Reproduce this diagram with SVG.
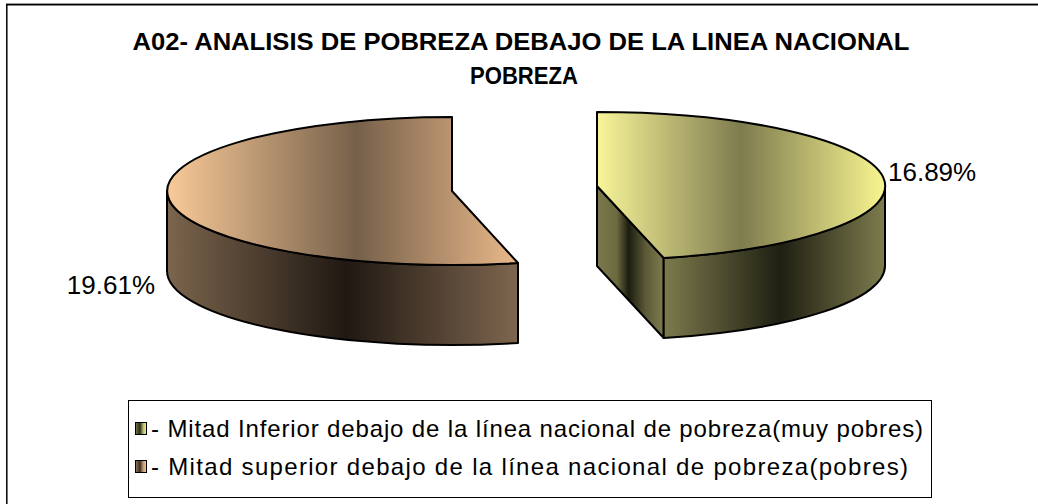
<svg xmlns="http://www.w3.org/2000/svg" width="1038" height="504" viewBox="0 0 1038 504">
<style>
.edge{stroke:#000;stroke-width:2;stroke-linejoin:round}
.title{font-family:"Liberation Sans",Arial,sans-serif;font-weight:bold;font-size:24px;fill:#000}
.lbl{font-family:"Liberation Sans",Arial,sans-serif;font-size:26px;fill:#000}
.leg{font-family:"Liberation Sans",Arial,sans-serif;font-size:24px;fill:#000}
</style>
<defs>
<linearGradient id="bTop" gradientUnits="userSpaceOnUse" x1="167" y1="0" x2="518" y2="0">
<stop offset="0" stop-color="#FACA98"/><stop offset="0.54" stop-color="#76604A"/><stop offset="1" stop-color="#EAB98A"/>
</linearGradient>
<linearGradient id="bSide" gradientUnits="userSpaceOnUse" x1="167" y1="0" x2="518" y2="0">
<stop offset="0" stop-color="#7B654D"/><stop offset="0.51" stop-color="#201812"/><stop offset="1" stop-color="#7E664F"/>
</linearGradient>
<linearGradient id="yTop" gradientUnits="userSpaceOnUse" x1="597" y1="0" x2="885" y2="0">
<stop offset="0" stop-color="#F8F59A"/><stop offset="0.5" stop-color="#7E7B4E"/><stop offset="1" stop-color="#F8F690"/>
</linearGradient>
<linearGradient id="ySide" gradientUnits="userSpaceOnUse" x1="663" y1="0" x2="885" y2="0">
<stop offset="0" stop-color="#7D7B4D"/><stop offset="0.53" stop-color="#1F1F12"/><stop offset="1" stop-color="#7D7C4E"/>
</linearGradient>
<linearGradient id="yCut" gradientUnits="userSpaceOnUse" x1="597" y1="0" x2="663" y2="0">
<stop offset="0" stop-color="#7C7A4C"/><stop offset="0.3" stop-color="#6B6A40"/><stop offset="0.48" stop-color="#1C1C10"/><stop offset="0.75" stop-color="#5E5C38"/><stop offset="1" stop-color="#7C7A4C"/>
</linearGradient>
<linearGradient id="ySw" x1="0" y1="0" x2="1" y2="0">
<stop offset="0" stop-color="#7C7A4C"/><stop offset="0.4" stop-color="#2A2A18"/><stop offset="0.7" stop-color="#B8B66A"/><stop offset="1" stop-color="#F8F59A"/>
</linearGradient>
<linearGradient id="bSw" x1="0" y1="0" x2="1" y2="0">
<stop offset="0" stop-color="#9A7C5E"/><stop offset="0.4" stop-color="#3A2C20"/><stop offset="0.7" stop-color="#C09A74"/><stop offset="1" stop-color="#FACA98"/>
</linearGradient>
</defs>
<rect x="0" y="0" width="1038" height="504" fill="#fff"/>
<g id="frame">
<line x1="6" y1="3.5" x2="1038" y2="3.5" stroke="#999" stroke-width="1"/>
<line x1="6" y1="4.8" x2="1038" y2="4.8" stroke="#000" stroke-width="1.5"/>
<line x1="6.8" y1="4" x2="6.8" y2="504" stroke="#000" stroke-width="1.5"/>
</g>
<g id="title">
<text class="title" x="521" y="50" text-anchor="middle" textLength="777" lengthAdjust="spacingAndGlyphs">A02- ANALISIS DE POBREZA DEBAJO DE LA LINEA NACIONAL</text>
<text class="title" x="524" y="84" text-anchor="middle" textLength="108" lengthAdjust="spacingAndGlyphs">POBREZA</text>
</g>
<g id="slice-superior">
<path class="edge" fill="url(#bSide)" d="M167,191 A285,74 0 0,0 518,263 L518,343 A285,74 0 0,1 167,271 Z"/>
<path class="edge" fill="url(#bTop)" d="M452,191 L452,117 A285,74 0 1,0 518,263 Z"/>
<text class="lbl" x="155" y="294" text-anchor="end">19.61%</text>
</g>
<g id="slice-inferior">
<path class="edge" fill="url(#yCut)" d="M597,186 L663.7,258 L663.7,338 L597,266 Z"/>
<path class="edge" fill="url(#ySide)" d="M885,186 A288,74 0 0,1 663.7,258 L663.7,338 A288,74 0 0,0 885,266 Z"/>
<path class="edge" fill="url(#yTop)" d="M597,186 L597,112 A288,74 0 0,1 663.7,258 Z"/>
<text class="lbl" x="888" y="181">16.89%</text>
</g>
<g id="legend">
<rect x="128.5" y="400.5" width="803" height="97" fill="#fff" stroke="#000" stroke-width="1"/>
<rect x="135.5" y="422.5" width="11" height="12" fill="url(#ySw)" stroke="#000" stroke-width="1"/>
<text class="leg" x="151" y="437" textLength="772" lengthAdjust="spacing">- Mitad Inferior debajo de la línea nacional de pobreza(muy pobres)</text>
<rect x="135.5" y="460.5" width="11" height="12" fill="url(#bSw)" stroke="#000" stroke-width="1"/>
<text class="leg" x="151" y="475" textLength="757" lengthAdjust="spacing">- Mitad superior debajo de la línea nacional de pobreza(pobres)</text>
</g>
</svg>
